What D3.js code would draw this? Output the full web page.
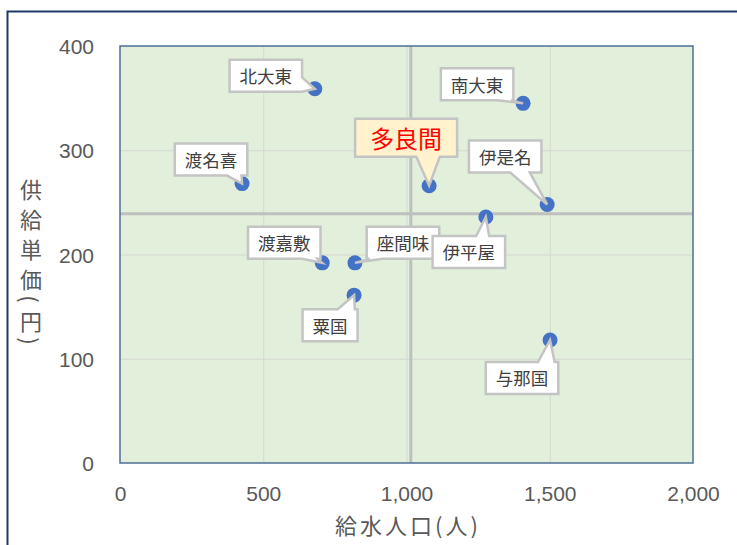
<!DOCTYPE html>
<html>
<head>
<meta charset="utf-8">
<script src="https://cdn.jsdelivr.net/npm/d3@7"></script>
<style>
  html, body { margin: 0; padding: 0; background: #ffffff; }
  svg { display: block; }
</style>
</head>
<body>
<svg id="chart" width="737" height="545"></svg>
<script>
// 町村別 給水人口と供給単価
const towns      = ["北大東", "南大東", "渡名喜", "座間味", "渡嘉敷", "粟国", "伊是名", "多良間", "与那国", "伊平屋"];
const population = [680, 1407, 426, 820, 706, 817, 1491, 1079, 1501, 1277];
const unitPrice  = [359, 345, 268, 192, 192, 161, 248, 266, 118, 236];

// 平均線（給水人口・供給単価）
const refPopulation = 1015;
const refPrice = 239;

const xTicks = [0, 500, 1000, 1500, 2000];
const yTicks = [0, 100, 200, 300, 400];
const highlightTown = "多良間";

// ラベル吹き出しの配置（点からの中心オフセットと、くさびの辺・位置）
const calloutLayout = {
  "北大東": { dx: -49,  dy: -13, edge: "r", f0: 0.55, f1: 1.0 },
  "南大東": { dx: -46,  dy: -19, edge: "b", f0: 0.78, f1: 0.97 },
  "渡名喜": { dx: -31,  dy: -24, edge: "b", f0: 0.72, f1: 0.92 },
  "多良間": { dx: -23,  dy: -48, edge: "b", f0: 0.60, f1: 0.83 },
  "伊是名": { dx: -42,  dy: -48, edge: "b", f0: 0.57, f1: 0.84 },
  "伊平屋": { dx: -17,  dy:  35, edge: "t", f0: 0.60, f1: 0.78 },
  "渡嘉敷": { dx: -38,  dy: -20, edge: "b", f0: 0.74, f1: 0.96 },
  "座間味": { dx:  48,  dy: -20, edge: "b", f0: 0.04, f1: 0.22 },
  "粟国":   { dx: -24,  dy:  30, edge: "t", f0: 0.64, f1: 0.95 },
  "与那国": { dx: -28,  dy:  38, edge: "t", f0: 0.72, f1: 0.95 }
};

const svg = d3.select("#chart");
const plot = { left: 120, right: 693, top: 46, bottom: 463 };

const x = d3.scaleLinear().domain([0, 2000]).range([plot.left, plot.right]);
const y = d3.scaleLinear().domain([0, 400]).range([plot.bottom, plot.top]);

// グラフエリアの枠
svg.append("rect")
  .attr("x", 7.5).attr("y", 11.5)
  .attr("width", 800).attr("height", 600)
  .attr("fill", "#ffffff")
  .attr("stroke", "#203864").attr("stroke-width", 2);

// プロットエリア
svg.append("rect")
  .attr("x", plot.left).attr("y", plot.top)
  .attr("width", plot.right - plot.left).attr("height", plot.bottom - plot.top)
  .attr("fill", "#e2efda");

// 目盛線
const grid = svg.append("g").attr("stroke", "#d3d7d0").attr("stroke-width", 1);
grid.selectAll("line.v").data(xTicks.slice(1, -1)).join("line")
  .attr("x1", d => x(d) + 0.5).attr("x2", d => x(d) + 0.5)
  .attr("y1", plot.top).attr("y2", plot.bottom);
grid.selectAll("line.h").data(yTicks.slice(1, -1)).join("line")
  .attr("x1", plot.left).attr("x2", plot.right)
  .attr("y1", d => y(d) + 0.5).attr("y2", d => y(d) + 0.5);

// 平均線
const ref = svg.append("g").attr("stroke", "#bfbfbf").attr("stroke-width", 3);
ref.append("line")
  .attr("x1", x(refPopulation)).attr("x2", x(refPopulation))
  .attr("y1", plot.top).attr("y2", plot.bottom);
ref.append("line")
  .attr("x1", plot.left).attr("x2", plot.right)
  .attr("y1", y(refPrice)).attr("y2", y(refPrice));

svg.append("rect")
  .attr("x", plot.left).attr("y", plot.top)
  .attr("width", plot.right - plot.left).attr("height", plot.bottom - plot.top)
  .attr("fill", "none")
  .attr("stroke", "#4d6f96").attr("stroke-width", 1.5);

// 軸
const tickFont = "'Liberation Sans', Arial, sans-serif";
const xAxis = d3.axisBottom(x).tickValues(xTicks).tickFormat(d3.format(",")).tickSize(0).tickPadding(0);
const gx = svg.append("g").attr("transform", `translate(0, ${plot.bottom + 30})`).call(xAxis);
gx.select(".domain").remove();
gx.selectAll("text")
  .attr("dy", null).attr("y", 0)
  .attr("dominant-baseline", "central")
  .attr("fill", "#595959")
  .style("font-family", tickFont).style("font-size", "21px");

const yAxis = d3.axisLeft(y).tickValues(yTicks).tickSize(0).tickPadding(0);
const gy = svg.append("g").attr("transform", `translate(${plot.left - 26}, 0)`).call(yAxis);
gy.select(".domain").remove();
gy.selectAll("text")
  .attr("dy", null).attr("x", 0)
  .attr("dominant-baseline", "central")
  .attr("fill", "#595959")
  .style("font-family", tickFont).style("font-size", "21px");

// 軸ラベル
const cjkFont = "'Noto Sans CJK JP', 'Noto Sans', sans-serif";
svg.append("text")
  .attr("x", 408).attr("y", 524)
  .attr("text-anchor", "middle")
  .attr("dominant-baseline", "central")
  .attr("fill", "#595959")
  .style("font-family", cjkFont).style("font-size", "22px")
  .style("letter-spacing", "3px")
  .text("給水人口(人)");

// 縦書きの軸ラベル
const yTitleChars = ["供", "給", "単", "価", "(", "円", ")"];
let yPos = 173;
const yTitle = svg.append("g")
  .attr("fill", "#595959")
  .style("font-family", cjkFont).style("font-size", "22px");
yTitleChars.forEach(ch => {
  const isParen = ch === "(" || ch === ")";
  const h = isParen ? 12 : 30;
  const cy = yPos + h / 2;
  yTitle.append("text")
    .attr("x", 0).attr("y", 0)
    .attr("text-anchor", "middle")
    .attr("dominant-baseline", "central")
    .attr("transform", `translate(31, ${cy})` + (isParen ? " rotate(90)" : ""))
    .text(ch);
  yPos += h;
});

// データ点
const rows = towns.map((t, i) => ({ town: t, pop: population[i], price: unitPrice[i] }));

svg.append("g").selectAll("circle").data(rows).join("circle")
  .attr("cx", d => x(d.pop)).attr("cy", d => y(d.price))
  .attr("r", 7.5)
  .attr("fill", "#4472c4");

// 吹き出しの輪郭
function calloutPath(b, tx, ty, edge, f0, f1) {
  const p = [];
  const x0 = b.x, y0 = b.y, x1 = b.x + b.w, y1 = b.y + b.h;
  p.push([x0, y0]);
  if (edge === "t") { p.push([x0 + f0 * b.w, y0], [tx, ty], [x0 + f1 * b.w, y0]); }
  p.push([x1, y0]);
  if (edge === "r") { p.push([x1, y0 + f0 * b.h], [tx, ty], [x1, y0 + f1 * b.h]); }
  p.push([x1, y1]);
  if (edge === "b") { p.push([x0 + f1 * b.w, y1], [tx, ty], [x0 + f0 * b.w, y1]); }
  p.push([x0, y1]);
  if (edge === "l") { p.push([x0, y0 + f1 * b.h], [tx, ty], [x0, y0 + f0 * b.h]); }
  return "M" + p.map(q => q.join(",")).join("L") + "Z";
}

const labels = svg.append("g");
rows.forEach(d => {
  const lay = calloutLayout[d.town];
  const hi = d.town === highlightTown;
  const g = labels.append("g");
  const px = x(d.pop), py = y(d.price);
  const cx = px + lay.dx, cy = py + lay.dy;
  const path = g.append("path");
  const txt = g.append("text")
    .attr("x", cx).attr("y", cy)
    .attr("text-anchor", "middle")
    .attr("dominant-baseline", "central")
    .attr("fill", hi ? "#ff0000" : "#404040")
    .style("font-family", cjkFont)
    .style("font-size", hi ? "24px" : "17.5px")
    .text(d.town);
  const tw = txt.node().getComputedTextLength();
  const w = tw + (hi ? 30 : 20);
  const h = hi ? 38 : 32;
  const box = { x: cx - w / 2, y: cy - h / 2, w, h };
  path.attr("d", calloutPath(box, px, py, lay.edge, lay.f0, lay.f1))
    .attr("fill", hi ? "#fff2cc" : "#ffffff")
    .attr("stroke", "#c4c4c4").attr("stroke-width", 2.5)
    .attr("stroke-linejoin", "miter");
});
</script>
</body>
</html>
